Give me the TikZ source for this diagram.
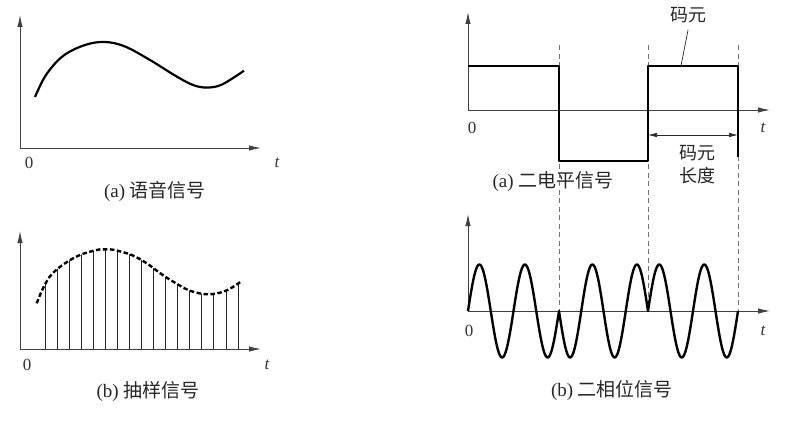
\documentclass[tikz,border=0pt]{standalone}
\usepackage{fontspec}
\setmainfont{Liberation Serif}
\newfontfamily\cjk{Noto Sans CJK SC}
\usetikzlibrary{arrows.meta}
\begin{document}
\begin{tikzpicture}[x=1pt,y=-1pt,
  axis/.style={draw=black!75,line width=0.9pt,-{Latex[length=12pt,width=5.5pt]}},
  sig/.style={draw=black,line width=2.2pt,line join=round},
  guide/.style={draw=black!55,line width=0.6pt,dash pattern=on 5pt off 3.5pt},
  num/.style={font=\fontsize{17}{19}\selectfont,text=black!80},
  tlab/.style={font=\fontsize{17}{19}\selectfont\itshape,text=black!80},
  captext/.style={font=\fontsize{19}{22}\selectfont,text=black!85},
  lab/.style={font=\fontsize{18}{20}\selectfont\cjk,text=black!85}]
\useasboundingbox (0,0) rectangle (791,420);

% ---------- left (a) speech signal ----------
\coordinate (la0) at (20,148);
\coordinate (lay) at (20,15);
\coordinate (lax) at (261,148);
\draw[axis] (la0) -- (lay);
\draw[axis] (la0) -- (lax);
\draw[sig] plot[smooth,tension=0.6] coordinates {(35,97) (46,75) (63,56) (85,45) (105,42) (125,46.5) (150,60) (175,75.5) (193,85) (207,87.5) (222,84.5) (244,70.7)};
\node[num] (la0t) at (29,163) {0};
\node[tlab] (latt) at (277,163) {t};
\node[captext] (lacap) at (155,191) {(a) {\cjk 语音信号}};

% ---------- left (b) sampled signal ----------
\def\sampcurve{(36.7,303.3) (43.3,287.7) (51.7,274.3) (65,263.3) (80,255) (96.7,250) (105,249.3) (114.3,250) (131.7,255) (146.7,263.3) (161.7,274.3) (175,282.7) (190,290.7) (208.3,294.3) (226,290.7) (241.7,281)}
\coordinate (lb0) at (20,349);
\coordinate (lby) at (20,231);
\coordinate (lbx) at (261,349);
\begin{scope}
  \clip plot[smooth,tension=0.6] coordinates {\sampcurve} -- (241.7,349) -- (36.7,349) -- cycle;
  \foreach \i in {0,...,16}{
    \draw[black!85,line width=0.7pt] ({45+\i*12.06},349) -- ({45+\i*12.06},230);
  }
\end{scope}
\draw[axis] (lb0) -- (lby);
\draw[axis] (lb0) -- (lbx);
\draw[sig,line width=2.4pt,dash pattern=on 4.5pt off 2.5pt] plot[smooth,tension=0.6] coordinates {\sampcurve};
\node[num] (lb0t) at (27,365) {0};
\node[tlab] (lbtt) at (267,365) {t};
\node[captext] (lbcap) at (148,392) {(b) {\cjk 抽样信号}};

% ---------- dashed symbol boundaries ----------
\foreach \xx/\nm in {559/d1,648/d2,738/d3}{
  \coordinate (\nm top) at (\xx,45);
  \coordinate (\nm bot) at (\xx,311);
  \draw[guide] (\nm top) -- (\nm bot);
}

% ---------- right (a) binary level signal ----------
\coordinate (ra0) at (468,110);
\coordinate (ray) at (468,12);
\coordinate (rax) at (770,110);
\draw[axis] (ra0) -- (ray);
\draw[axis] (ra0) -- (rax);
\draw[sig,line width=2pt] (468,66) -- (559,66) -- (559,161) -- (648,161) -- (648,66) -- (738,66) -- (738,157);
\node[num] (ra0t) at (472,128) {0};
\node[tlab] (ratt) at (763,128) {t};
\node[lab] (sym1) at (688,15) {码元};
\coordinate (symA) at (688,30);
\coordinate (symB) at (681,66);
\draw[black!85,line width=0.7pt] (symA) -- (symB);
\coordinate (lenA) at (648,135);
\coordinate (lenB) at (738,135);
\draw[black!85,line width=0.7pt,{Latex[length=9pt,width=4.5pt]}-{Latex[length=9pt,width=4.5pt]}] (lenA) -- (lenB);
\node[lab] (sym2) at (697,153) {码元};
\node[lab] (sym3) at (697,176) {长度};
\node[captext] (racap) at (553,182) {(a) {\cjk 二电平信号}};

% ---------- right (b) binary phase signal ----------
\coordinate (rb0) at (468,311);
\coordinate (rby) at (468,214);
\coordinate (rbx) at (770,311);
\draw[axis] (rb0) -- (rby);
\draw[axis] (rb0) -- (rbx);
\draw[sig,line width=2.4pt]
  plot[domain=0:91,samples=90] ({468+\x},{311-46.5*sin(7.912*\x)})
  -- plot[domain=0:89,samples=90] ({559+\x},{311+46.5*sin(8.090*\x)})
  -- plot[domain=0:90,samples=90] ({648+\x},{311-46.5*sin(8.0*\x)});
\node[num] (rb0t) at (469,331) {0};
\node[tlab] (rbtt) at (763,331) {t};
\node[captext] (rbcap) at (612,390) {(b) {\cjk 二相位信号}};
\end{tikzpicture}
\end{document}
